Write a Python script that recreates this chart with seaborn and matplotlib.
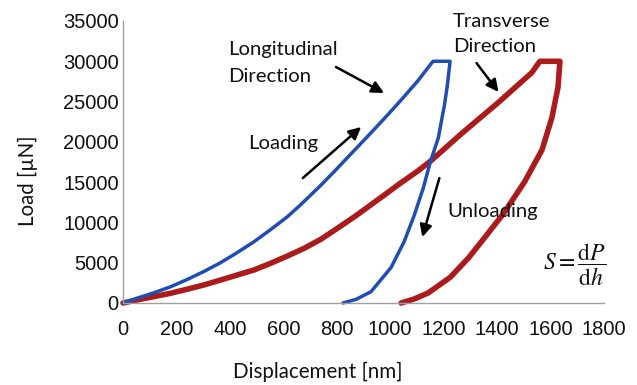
import matplotlib
matplotlib.use("Agg")
import matplotlib.pyplot as plt
import pandas as pd
import seaborn as sns

# ---------------- data ----------------
x_ticks = [0, 200, 400, 600, 800, 1000, 1200, 1400, 1600, 1800]
y_ticks = [0, 5000, 10000, 15000, 20000, 25000, 30000, 35000]

# Longitudinal direction: loading -> hold -> unloading (path order)
long_disp = [0, 51, 114, 177, 239, 302, 365, 427, 490, 552, 615, 665, 740, 790, 853, 916,
             978, 1041, 1104, 1160,
             1224, 1213, 1203, 1180, 1150, 1124, 1090, 1052, 1003, 928, 872, 823]
long_load = [0, 580, 1250, 2000, 2900, 3900, 5000, 6250, 7600, 9100, 10700, 12200, 14600, 16300, 18500, 20700,
             22900, 25200, 27600, 30000,
             30000, 26800, 24600, 20500, 17500, 14300, 10900, 7600, 4400, 1400, 450, 0]

# Transverse direction: loading -> hold -> unloading (path order)
trans_disp = [0, 51, 114, 177, 239, 302, 365, 427, 490, 552, 615, 678, 740, 790, 866, 978, 1035,
              1104, 1154, 1266, 1405, 1530, 1560,
              1635, 1628, 1605, 1568, 1502, 1424, 1353, 1293, 1225, 1142, 1090, 1041]
trans_load = [0, 370, 780, 1200, 1700, 2230, 2850, 3470, 4100, 4920, 5830, 6790, 7900, 9000, 10700, 13400, 14800,
              16400, 17700, 21000, 24900, 28600, 30000,
              30000, 26800, 23000, 19000, 15000, 11100, 8100, 5600, 3200, 1250, 500, 0]

# ---------------- figure ----------------
sns.set_theme(style="white")
plt.rcParams['font.family'] = ['Liberation Sans', 'DejaVu Sans']
plt.rcParams['mathtext.fontset'] = 'stix'

W, H = 637, 385
fig = plt.figure(figsize=(W / 100, H / 100), dpi=100)
ax = fig.add_axes([123 / W, 1 - 303 / H, 481 / W, 282 / H])

df_long = pd.DataFrame({'disp': long_disp, 'load': long_load})
df_trans = pd.DataFrame({'disp': trans_disp, 'load': trans_load})

sns.lineplot(data=df_trans, x='disp', y='load', sort=False, estimator=None,
             color='#AC1B1B', lw=4.0, ax=ax, clip_on=False,
             solid_joinstyle='round', solid_capstyle='round')
sns.lineplot(data=df_long, x='disp', y='load', sort=False, estimator=None,
             color='#1F4DB3', lw=2.5, ax=ax, clip_on=False,
             solid_joinstyle='round', solid_capstyle='round')

ax.set_xlim(0, 1800)
ax.set_ylim(0, 35000)
ax.set_xticks(x_ticks)
ax.set_yticks(y_ticks)
ax.set_xticklabels([str(v) for v in x_ticks])
ax.set_yticklabels([str(v) for v in y_ticks])
ax.tick_params(axis='both', length=0, labelsize=14.5, colors='#111111')
ax.tick_params(axis='x', pad=12.5)
ax.tick_params(axis='y', pad=3)
ax.set_xlabel('')
ax.set_ylabel('')
for s in ['top', 'right']:
    ax.spines[s].set_visible(False)
for s in ['left', 'bottom']:
    ax.spines[s].set_color('#A0A0A0')
    ax.spines[s].set_linewidth(1.0)
ax.grid(False)


def fx(px):
    return px / W


def fy(py):
    return 1 - py / H


lab_font = ['Lato', 'DejaVu Sans']
fig.text(fx(28), fy(181), 'Load [µN]', rotation=90, ha='center', va='center',
         fontsize=14.8, family=lab_font, color='#111111')
fig.text(fx(318), fy(372), 'Displacement [nm]', ha='center', va='center',
         fontsize=14.8, family=lab_font, color='#111111')

txt_kw = dict(fontsize=14.6, family=lab_font, color='#111111', ha='left', va='center')
fig.text(fx(228), fy(63), 'Longitudinal\nDirection', linespacing=1.72, **txt_kw)
fig.text(fx(453), fy(34), 'Transverse\nDirection', linespacing=1.57, **txt_kw)
fig.text(fx(248), fy(143), 'Loading', **txt_kw)
fig.text(fx(447), fy(212), 'Unloading', **txt_kw)

fig.text(fx(575), fy(265), r'$S=\dfrac{\mathrm{d}P}{\mathrm{d}h}$', ha='center', va='center',
         fontsize=17, color='#111111')

arrow_kw = dict(arrowstyle='-|>', color='black', lw=1.8, mutation_scale=18,
                shrinkA=0, shrinkB=0)
arrows = [((797, 29290), (977, 26060)),
          ((673, 15510), (891, 21840)),
          ((1323, 29780), (1405, 26190)),
          ((1184, 15510), (1120, 8190))]
for tail, head in arrows:
    ax.annotate('', xy=head, xytext=tail, arrowprops=arrow_kw, annotation_clip=False)

fig.savefig('out.png', dpi=100)
